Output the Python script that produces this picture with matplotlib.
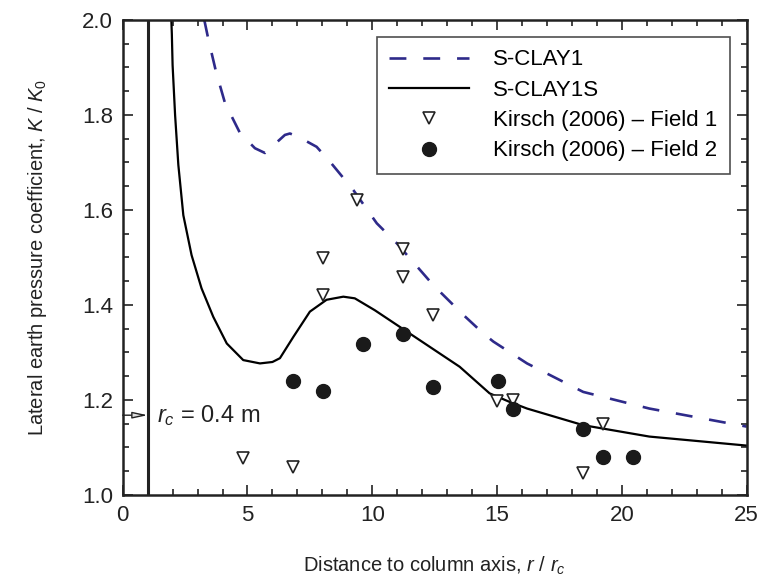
import numpy as np
import matplotlib
matplotlib.use("Agg")
import matplotlib.pyplot as plt
from matplotlib.ticker import MultipleLocator

plt.rcParams['font.family'] = ['Liberation Sans', 'DejaVu Sans']
plt.rcParams['mathtext.fontset'] = 'custom'
plt.rcParams['mathtext.rm'] = 'Liberation Sans'
plt.rcParams['mathtext.it'] = 'Liberation Sans:italic'

# S-CLAY1 (dashed) curve
sclay1_r = [3.27, 3.43, 3.74, 4.1, 4.7, 5.3, 5.7, 5.87, 6.5, 6.7, 7.04, 7.77, 8.3,
            9.24, 10.18, 10.98, 12.44, 13.65, 14.45, 14.85, 16.2, 18.45, 21.1, 25.0]
sclay1_k = [2.0, 1.96, 1.891, 1.825, 1.762, 1.73, 1.72, 1.728, 1.758, 1.761, 1.754, 1.733,
            1.702, 1.642, 1.572, 1.53, 1.442, 1.379, 1.34, 1.323, 1.277, 1.217, 1.182, 1.144]

# S-CLAY1S (solid) curve
sclay1s_r = [1.95, 1.97, 2.0, 2.1, 2.23, 2.43, 2.76, 3.16, 3.63, 4.17, 4.83, 5.5, 6.0, 6.3,
             6.84, 7.5, 8.17, 8.84, 9.3, 10.1, 11.1, 12.1, 13.1, 13.5, 14.7, 15.5, 16.2,
             18.45, 21.1, 25.0]
sclay1s_k = [2.0, 1.97, 1.905, 1.80, 1.695, 1.589, 1.505, 1.435, 1.375, 1.319, 1.284, 1.277,
             1.28, 1.288, 1.333, 1.386, 1.411, 1.4175, 1.414, 1.389, 1.354, 1.319, 1.284,
             1.27, 1.214, 1.196, 1.182, 1.147, 1.123, 1.104]

# Kirsch (2006) field data
field1_r = [4.83, 6.81, 8.04, 8.04, 9.4, 11.22, 11.22, 12.42, 14.98, 15.62, 18.43, 19.23]
field1_k = [1.077, 1.058, 1.498, 1.421, 1.621, 1.517, 1.458, 1.379, 1.198, 1.20, 1.047, 1.149]

field2_r = [6.81, 8.01, 9.62, 11.22, 12.42, 15.02, 15.62, 18.43, 19.23, 20.43]
field2_k = [1.239, 1.219, 1.318, 1.339, 1.228, 1.239, 1.180, 1.138, 1.079, 1.079]

column_r = 1.0
arrow_k = 1.168

fig = plt.figure(figsize=(7.61, 5.86), dpi=100)
ax = fig.add_axes([0.1612, 0.1553, 0.82, 0.8106])

ax.plot(sclay1_r, sclay1_k, color='#2E2A8A', lw=1.9, dashes=(6.4, 6.4),
        label='S-CLAY1')
ax.plot(sclay1s_r, sclay1s_k, color='black', lw=1.6, label='S-CLAY1S')
ax.plot(field1_r, field1_k, ls='none', marker='v', ms=9, mfc='white',
        mec='#222222', mew=1.2, label='Kirsch (2006) – Field 1')
ax.plot(field2_r, field2_k, ls='none', marker='o', ms=10, mfc='#1a1a1a',
        mec='#1a1a1a', label='Kirsch (2006) – Field 2')

ax.axvline(column_r, color='#222222', lw=2.2)
ax.annotate('', xy=(column_r, arrow_k), xytext=(0, arrow_k),
            arrowprops=dict(arrowstyle='-|>,head_length=0.6,head_width=0.13',
                            color='#222222', lw=1.0, fc='#dddddd',
                            mutation_scale=15, shrinkA=0, shrinkB=0))
ax.text(1.38, arrow_k, r'$r_c$ = 0.4 m', fontsize=17, va='center', ha='left',
        color='#222222')

ax.set_xlim(0, 25)
ax.set_ylim(1.0, 2.0)
ax.xaxis.set_major_locator(MultipleLocator(5))
ax.xaxis.set_minor_locator(MultipleLocator(1))
ax.yaxis.set_major_locator(MultipleLocator(0.2))
ax.yaxis.set_minor_locator(MultipleLocator(0.05))
ax.set_yticks([1.0, 1.2, 1.4, 1.6, 1.8, 2.0])
ax.set_yticklabels(['1.0', '1.2', '1.4', '1.6', '1.8', '2.0'])

ax.tick_params(which='both', direction='in', top=True, right=True,
               labelsize=16, colors='#222222', width=1.2)
ax.tick_params(which='major', length=7, pad=7)
ax.tick_params(which='minor', length=4)
for sp in ax.spines.values():
    sp.set_linewidth(1.8)
    sp.set_color('#222222')

ax.set_xlabel(r'Distance to column axis, $r$ / $r_c$', fontsize=14.5,
              color='#222222', labelpad=21)
ax.set_ylabel(r'Lateral earth pressure coefficient, $K$ / $K_0$', fontsize=14.5,
              color='#222222', labelpad=24)

leg = ax.legend(loc='upper right', bbox_to_anchor=(0.973, 0.964), fontsize=16,
                frameon=True, fancybox=False, edgecolor='#222222',
                handlelength=3.6, labelspacing=0.42, borderpad=0.55,
                handletextpad=1.1, borderaxespad=0)
leg.get_frame().set_linewidth(1.2)

fig.savefig('out.png', dpi=100)
